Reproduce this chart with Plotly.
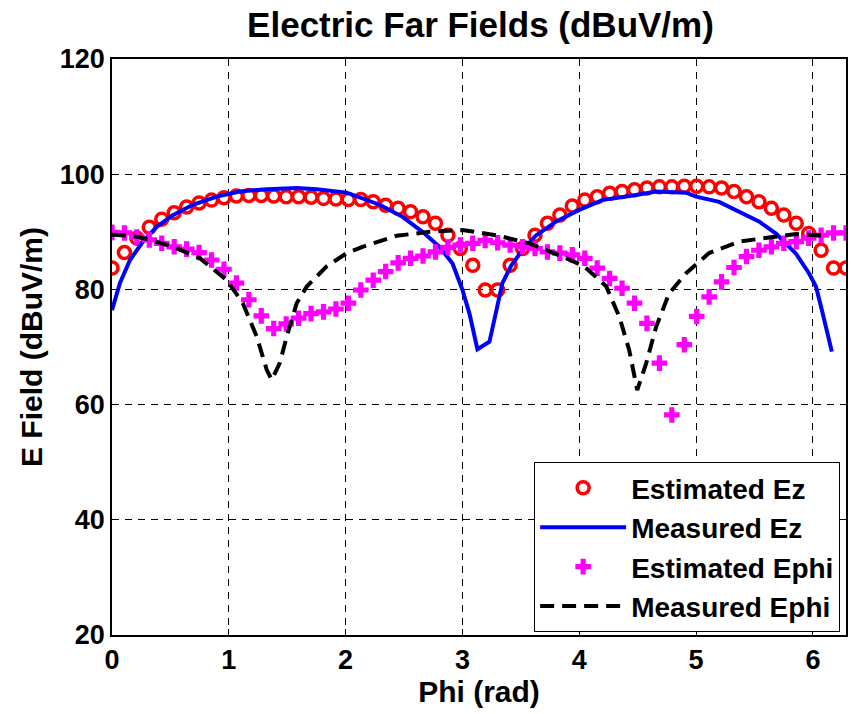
import numpy as np
import plotly.graph_objects as go

# Estimated samples (60 points over 0..2*pi)
phi_est = np.linspace(0, 2 * np.pi, 60)
est_ez = [83.7, 86.4, 88.9, 90.8, 92.2, 93.3, 94.3, 95.0, 95.5, 95.9,
          96.2, 96.3, 96.3, 96.2, 96.1, 96.1, 96.0, 95.8, 95.7, 95.6,
          95.6, 95.2, 94.6, 94.1, 93.5, 92.6, 91.5, 89.4, 87.1, 84.2,
          79.9, 79.9, 84.2, 87.1, 89.4, 91.5, 92.9, 94.5, 95.5, 96.1,
          96.7, 97.0, 97.3, 97.6, 97.8, 97.8, 97.9, 97.9, 97.8, 97.6,
          97.0, 96.1, 95.2, 94.1, 92.9, 91.5, 89.7, 86.8, 83.7, 83.7]
est_ephi = [89.9, 89.8, 89.1, 88.6, 88.0, 87.4, 87.0, 86.4, 85.1, 83.5,
            81.1, 78.2, 75.4, 73.2, 74.0, 75.0, 75.8, 76.1, 76.6, 77.6,
            79.9, 81.6, 83.1, 84.6, 85.4, 85.8, 86.5, 87.3, 87.7, 88.0,
            88.5, 88.1, 87.7, 87.4, 87.1, 86.5, 86.3, 86.0, 85.4, 83.7,
            81.9, 80.2, 77.6, 74.1, 67.2, 58.2, 70.4, 75.3, 78.7, 81.3,
            83.8, 85.7, 86.8, 87.4, 88.0, 88.3, 88.9, 89.4, 89.8, 89.8]

# Measured Ez
phi_mez = [0.000, 0.068, 0.154, 0.265, 0.385, 0.521, 0.692, 0.897, 1.094, 1.325,
           1.581, 1.752, 2.009, 2.291, 2.487, 2.658, 2.803, 2.915, 3.000, 3.060,
           3.128, 3.231, 3.291, 3.342, 3.419, 3.513, 3.632, 3.803, 4.000, 4.197,
           4.487, 4.658, 4.915, 5.000, 5.197, 5.368, 5.538, 5.684, 5.855, 5.966,
           6.026, 6.077, 6.162]
meas_ez = [76.4, 81.1, 85.1, 88.3, 90.9, 92.9, 94.7, 96.1, 97.0, 97.4,
           97.6, 97.4, 96.8, 94.7, 92.6, 90.0, 87.4, 84.5, 79.9, 75.8,
           69.6, 70.9, 76.4, 81.1, 84.2, 86.8, 89.4, 91.8, 93.8, 95.5,
           96.4, 97.0, 96.8, 96.1, 95.2, 93.5, 91.8, 89.7, 86.2, 82.8,
           80.5, 76.4, 69.2]

# Measured Ephi
phi_mephi = [0.000, 0.179, 0.325, 0.521, 0.752, 0.983, 1.120, 1.239, 1.325, 1.368,
             1.436, 1.496, 1.581, 1.667, 1.838, 2.009, 2.145, 2.436, 2.718, 3.000,
             3.291, 3.573, 3.855, 4.043, 4.231, 4.342, 4.427, 4.496, 4.573, 4.658,
             4.769, 4.915, 5.111, 5.368, 5.624, 5.855, 6.137]
meas_ephi = [89.5, 89.3, 88.6, 87.4, 85.4, 81.6, 77.6, 71.8, 66.0, 64.3,
             67.2, 71.8, 77.6, 80.5, 84.0, 86.3, 87.4, 89.3, 90.0, 90.3,
             89.4, 88.0, 85.7, 84.0, 80.5, 75.3, 69.5, 62.5, 67.2, 73.5,
             79.3, 82.8, 86.3, 88.3, 89.0, 89.6, 89.3]

x_ticks = [0, 1, 2, 3, 4, 5, 6]
y_ticks = [20, 40, 60, 80, 100, 120]

FONT = "Liberation Sans"

fig = go.Figure()
fig.add_trace(go.Scatter(
    x=phi_est, y=est_ez, mode="markers", name="Estimated Ez", legendgroup="a",
    marker=dict(symbol="circle-open", size=12, color="#FF0000",
                line=dict(width=3.5, color="#FF0000"))))
fig.add_trace(go.Scatter(
    x=phi_mez, y=meas_ez, mode="lines", name="Measured Ez", legendgroup="b",
    line=dict(color="#0000FF", width=4)))
fig.add_trace(go.Scatter(
    x=phi_est, y=est_ephi, mode="markers", name="Estimated Ephi", legendgroup="c",
    marker=dict(symbol="cross", size=13, color="#FF00FF",
                line=dict(width=0))))
fig.add_trace(go.Scatter(
    x=phi_mephi, y=meas_ephi, mode="lines", name="Measured Ephi", legendgroup="d",
    line=dict(color="#000000", width=4, dash="14px,8px")))

axis_common = dict(
    showline=True, linecolor="black", linewidth=1.5, mirror="ticks",
    ticks="inside", ticklen=6, tickcolor="black", tickwidth=1,
    showgrid=True, gridcolor="black", gridwidth=1, griddash="7px,6px",
    zeroline=False,
    tickfont=dict(family=FONT, size=27, color="black", weight="bold"),
)

fig.update_layout(
    width=853, height=714,
    margin=dict(l=112, r=5, t=59, b=79),
    paper_bgcolor="white", plot_bgcolor="white",
    title=dict(text="Electric Far Fields (dBuV/m)", x=0.5633, xanchor="center",
               y=1 - 25 / 714, yanchor="middle", yref="container",
               font=dict(family=FONT, size=35, color="black", weight="bold")),
    xaxis=dict(range=[0, 2 * np.pi], tickvals=x_ticks,
               title=dict(text="Phi (rad)", standoff=2,
                          font=dict(family=FONT, size=30, color="black", weight="bold")),
               **axis_common),
    yaxis=dict(range=[20, 120], tickvals=y_ticks,
               title=dict(text="E Field (dBuV/m)", standoff=8,
                          font=dict(family=FONT, size=30, color="black", weight="bold")),
               **axis_common),
    legend=dict(x=0.992, y=0.005, xanchor="right", yanchor="bottom",
                bgcolor="white", bordercolor="black", borderwidth=1,
                font=dict(family=FONT, size=28, color="black", weight="bold"),
                traceorder="grouped", tracegroupgap=0, itemwidth=86),
    showlegend=True,
)

fig.write_html("out.html")
